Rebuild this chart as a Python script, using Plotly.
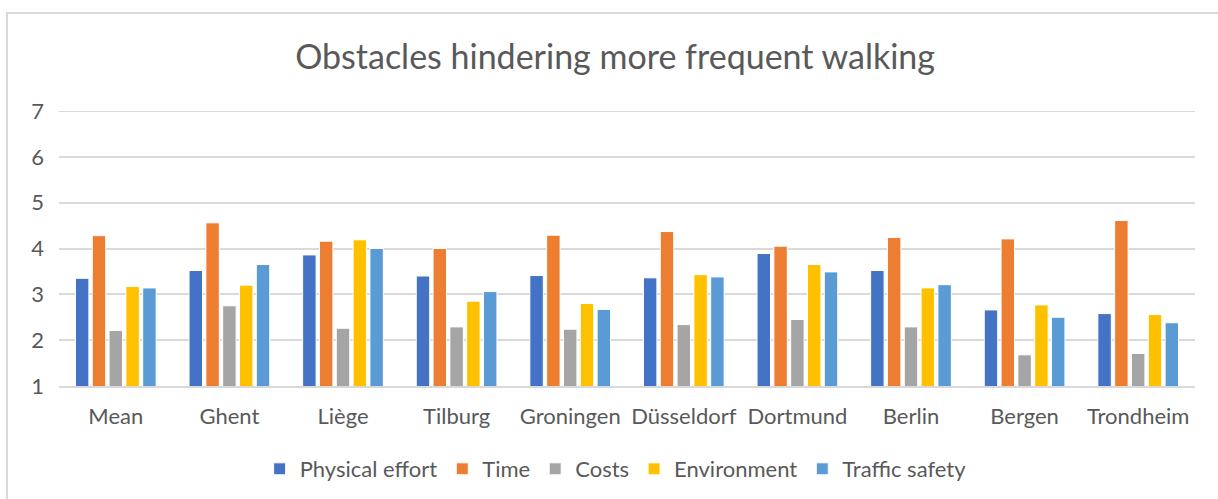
import plotly.graph_objects as go

categories = ["Mean", "Ghent", "Liège", "Tilburg", "Groningen", "Düsseldorf",
              "Dortmund", "Berlin", "Bergen", "Trondheim"]
physical_effort = [3.35, 3.52, 3.86, 3.40, 3.41, 3.36, 3.89, 3.52, 2.66, 2.58]
time_ = [4.28, 4.56, 4.16, 4.00, 4.29, 4.37, 4.05, 4.24, 4.21, 4.61]
costs = [2.21, 2.75, 2.26, 2.29, 2.24, 2.34, 2.45, 2.29, 1.68, 1.71]
environment = [3.17, 3.20, 4.19, 2.85, 2.80, 3.43, 3.65, 3.14, 2.77, 2.56]
traffic_safety = [3.14, 3.65, 4.00, 3.06, 2.67, 3.38, 3.49, 3.21, 2.50, 2.38]
y_ticks = [1, 2, 3, 4, 5, 6, 7]

series = [
    ("Physical effort", physical_effort, "#4472C4"),
    ("Time", time_, "#ED7D31"),
    ("Costs", costs, "#A5A5A5"),
    ("Environment", environment, "#FFC000"),
    ("Traffic safety", traffic_safety, "#5B9BD5"),
]

FONT = "Lato"
TXT = "#595959"

fig = go.Figure()
for name, vals, col in series:
    fig.add_trace(go.Bar(
        name=name, x=categories, y=vals,
        marker=dict(color=col, line=dict(color="white", width=1)),
    ))

fig.update_layout(
    width=1218, height=499,
    paper_bgcolor="white", plot_bgcolor="white",
    margin=dict(l=59, r=23, t=111, b=113, autoexpand=False),
    barmode="group", bargap=0.26, bargroupgap=0.2,
    title=dict(text="Obstacles hindering more frequent walking",
               x=0.505, xanchor="center", y=1 - 57 / 499, yanchor="middle",
               font=dict(family=FONT, size=34, color=TXT)),
    font=dict(family=FONT, color=TXT, size=22),
    legend=dict(orientation="h", x=0.49, xanchor="center",
                y=-(469 - 386) / 275, yanchor="middle",
                font=dict(family=FONT, size=22, color=TXT),
                itemwidth=30, traceorder="normal"),
    yaxis=dict(range=[y_ticks[0], y_ticks[-1]], tickvals=y_ticks,
               showgrid=True, gridcolor="#D9D9D9", gridwidth=2,
               zeroline=False, showline=False, ticks="", ticklabelstandoff=14,
               automargin=False,
               tickfont=dict(family=FONT, size=22, color=TXT)),
    xaxis=dict(showline=True, linecolor="#D9D9D9", linewidth=2, ticks="",
               automargin=False, ticklabelstandoff=10,
               tickfont=dict(family=FONT, size=22, color=TXT)),
    shapes=[
        dict(type="rect", xref="paper", yref="paper",
             x0=(7 - 59) / 1136, x1=1.05, y0=-0.5, y1=(386 - 13) / 275,
             line=dict(color="#D9D9D9", width=2), layer="below"),
        dict(type="line", xref="paper", yref="y", x0=0, x1=1,
             y0=y_ticks[-1], y1=y_ticks[-1],
             line=dict(color="#D9D9D9", width=2), layer="below"),
    ],
)

fig.write_html("out.html", config={"displayModeBar": False},
               post_script="document.body.style.margin='0';document.body.style.overflow='hidden';")
